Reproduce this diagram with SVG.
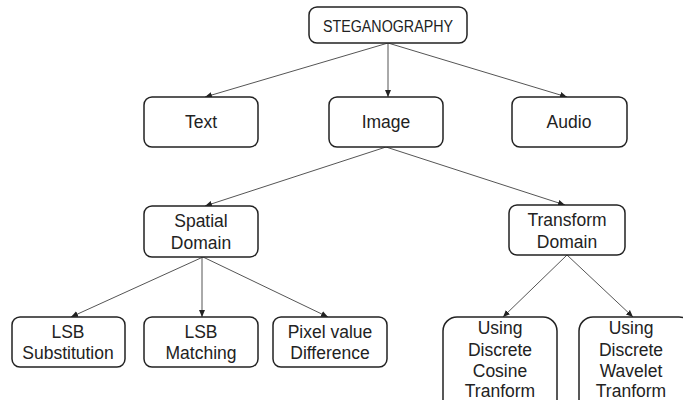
<svg xmlns="http://www.w3.org/2000/svg" width="683" height="400" viewBox="0 0 683 400">
<defs>
<marker id="ah" markerWidth="8" markerHeight="8" refX="7" refY="4" orient="auto" markerUnits="userSpaceOnUse">
<path d="M0,1 L7,4 L0,7 Z" fill="#222"/>
</marker>
<style>
.box{fill:#fff;stroke:#222;stroke-width:1.5}
.t{font-family:"Liberation Sans",Arial,sans-serif;font-size:17.5px;fill:#222;text-anchor:middle}
.c{stroke:#555;stroke-width:1;fill:none;marker-end:url(#ah)}
</style>
</defs>
<rect width="683" height="400" fill="#fff"/>
<g id="connectors">
<path class="c" d="M388,43 L205,97"/>
<path class="c" d="M388,43 L388,97"/>
<path class="c" d="M388,43 L567,97"/>
<path class="c" d="M386,147 L205,206"/>
<path class="c" d="M386,147 L565,205"/>
<path class="c" d="M203,257 L71,317"/>
<path class="c" d="M202,257 L202,317"/>
<path class="c" d="M203,257 L328,317"/>
<path class="c" d="M567,255 L503,317"/>
<path class="c" d="M567,255 L633,317"/>
</g>
<g id="steganography"><rect class="box" x="309" y="7" width="158" height="36" rx="8"/><text class="t" x="388" y="32" style="font-size:16px" textLength="130" lengthAdjust="spacingAndGlyphs">STEGANOGRAPHY</text></g>
<g id="text"><rect class="box" x="144" y="97" width="114" height="50" rx="8"/><text class="t" x="201" y="128">Text</text></g>
<g id="image"><rect class="box" x="329" y="97" width="114" height="50" rx="8"/><text class="t" x="386" y="128">Image</text></g>
<g id="audio"><rect class="box" x="512" y="97" width="115" height="50" rx="8"/><text class="t" x="569" y="128">Audio</text></g>
<g id="spatial"><rect class="box" x="144" y="206" width="114" height="51" rx="8"/><text class="t" x="201" y="227">Spatial</text><text class="t" x="201" y="249">Domain</text></g>
<g id="transform"><rect class="box" x="509" y="205" width="116" height="50" rx="8"/><text class="t" x="567" y="226">Transform</text><text class="t" x="567" y="248">Domain</text></g>
<g id="lsbsub"><rect class="box" x="12" y="317" width="113" height="50" rx="8"/><text class="t" x="68" y="338">LSB</text><text class="t" x="68" y="359">Substitution</text></g>
<g id="lsbmatch"><rect class="box" x="144" y="317" width="114" height="50" rx="8"/><text class="t" x="201" y="338">LSB</text><text class="t" x="201" y="359">Matching</text></g>
<g id="pixel"><rect class="box" x="273" y="317" width="114" height="50" rx="8"/><text class="t" x="330" y="338">Pixel value</text><text class="t" x="330" y="359">Difference</text></g>
<g id="dct"><rect class="box" x="443" y="317" width="114" height="100" rx="14"/><text class="t" x="500" y="334">Using</text><text class="t" x="500" y="356">Discrete</text><text class="t" x="500" y="377">Cosine</text><text class="t" x="500" y="397">Tranform</text></g>
<g id="dwt"><rect class="box" x="579" y="317" width="114" height="100" rx="14"/><text class="t" x="631" y="334">Using</text><text class="t" x="631" y="356">Discrete</text><text class="t" x="631" y="377">Wavelet</text><text class="t" x="631" y="397">Tranform</text></g>
</svg>
